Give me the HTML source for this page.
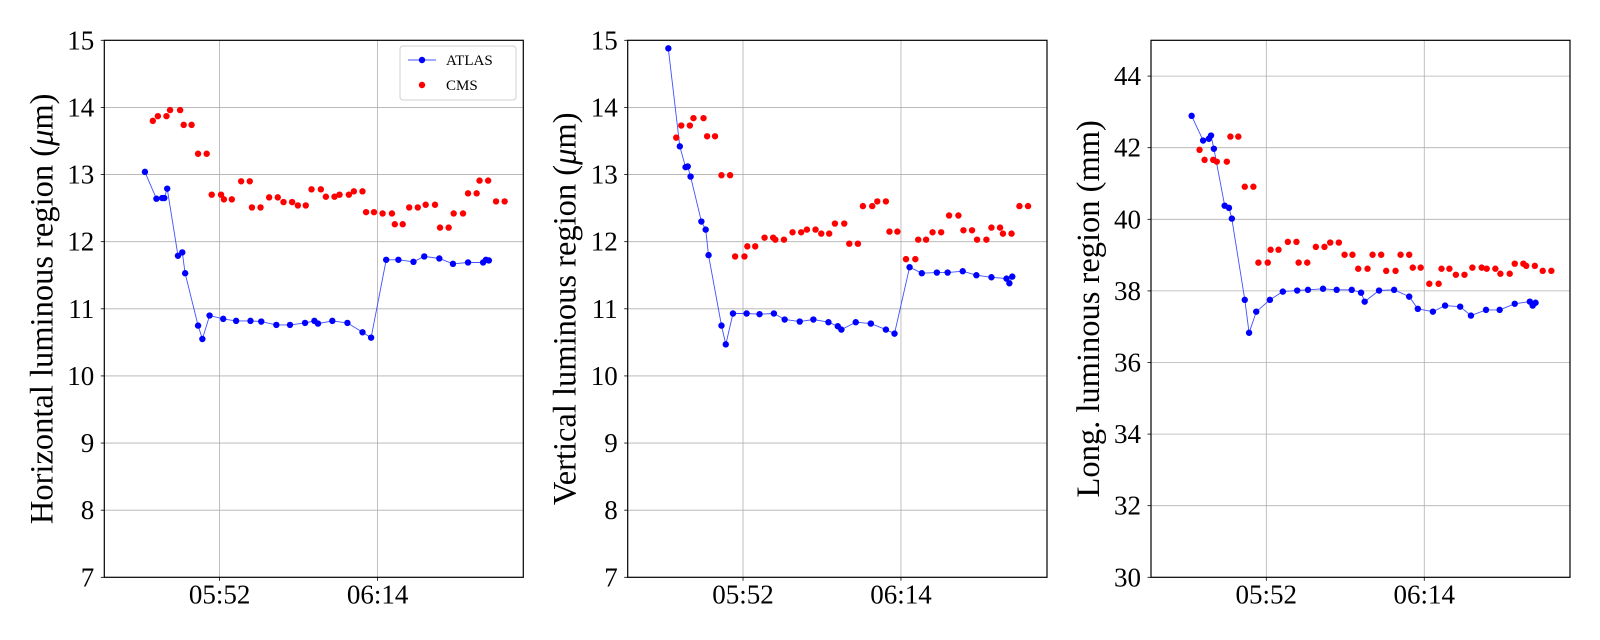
<!DOCTYPE html>
<html><head><meta charset="utf-8"><style>
html,body{margin:0;padding:0;background:#fff;}
svg{display:block;font-family:"Liberation Serif",serif;}
</style></head><body>
<svg id="chart" width="1600" height="640" viewBox="0 0 1600 640" xmlns="http://www.w3.org/2000/svg"></svg>
<script>
// times in minutes since midnight
const atlasTimes=[341.6,343.2,344.0,344.3,344.7,346.2,346.8,347.2,349.0,349.6,350.6,352.5,354.3,356.3,357.8,359.9,361.8,363.9,365.2,365.7,367.7,369.8,371.9,373.1,375.2,376.9,379.0,380.5,382.6,384.5,386.6,388.7,389.1,389.5];
const cmsTimes=[342.7,343.4,344.6,345.1,346.5,347.0,348.1,349.0,350.2,350.9,352.2,352.6,353.7,355.0,356.2,356.5,357.7,358.9,360.1,360.9,362.1,362.9,364.0,364.8,366.1,366.8,368.0,368.7,370.0,370.7,371.9,372.4,373.5,374.7,376.0,376.4,377.5,378.4,379.6,380.7,382.0,382.7,383.9,384.6,385.9,386.6,387.8,388.2,389.4,390.5,391.7];
const hAtlas=[13.04,12.64,12.65,12.65,12.79,11.79,11.84,11.53,10.75,10.55,10.90,10.85,10.82,10.82,10.81,10.76,10.76,10.79,10.82,10.78,10.82,10.79,10.65,10.57,11.73,11.73,11.70,11.78,11.75,11.67,11.69,11.69,11.73,11.72];
const hCms=[13.80,13.87,13.87,13.96,13.96,13.74,13.74,13.31,13.31,12.70,12.70,12.63,12.63,12.90,12.90,12.51,12.51,12.66,12.66,12.59,12.59,12.54,12.54,12.78,12.78,12.67,12.67,12.70,12.70,12.75,12.75,12.44,12.44,12.42,12.42,12.26,12.26,12.51,12.51,12.55,12.55,12.21,12.21,12.42,12.42,12.72,12.72,12.91,12.91,12.60,12.60];
const vAtlas=[14.88,13.42,13.11,13.12,12.97,12.30,12.18,11.80,10.75,10.47,10.93,10.93,10.92,10.93,10.84,10.81,10.84,10.80,10.74,10.69,10.80,10.78,10.69,10.63,11.62,11.53,11.54,11.54,11.56,11.50,11.47,11.45,11.38,11.48];
const vCms=[13.55,13.73,13.73,13.84,13.84,13.57,13.57,12.99,12.99,11.78,11.78,11.93,11.93,12.06,12.06,12.03,12.03,12.14,12.14,12.18,12.18,12.12,12.12,12.27,12.27,11.97,11.97,12.53,12.53,12.60,12.60,12.15,12.15,11.74,11.74,12.03,12.03,12.14,12.14,12.39,12.39,12.17,12.17,12.03,12.03,12.21,12.21,12.12,12.12,12.53,12.53];
const lAtlas=[42.89,42.20,42.25,42.34,41.97,40.38,40.32,40.02,37.75,36.83,37.42,37.75,37.98,38.01,38.03,38.06,38.03,38.03,37.95,37.70,38.01,38.03,37.84,37.50,37.42,37.59,37.56,37.31,37.47,37.47,37.64,37.70,37.59,37.67];
const lCms=[41.94,41.66,41.66,41.61,41.61,42.31,42.31,40.91,40.91,38.79,38.79,39.15,39.15,39.37,39.37,38.79,38.79,39.23,39.23,39.35,39.35,39.01,39.01,38.62,38.62,39.01,39.01,38.56,38.56,39.01,39.01,38.65,38.65,38.20,38.20,38.62,38.62,38.45,38.45,38.65,38.65,38.62,38.62,38.48,38.48,38.76,38.76,38.70,38.70,38.56,38.56];
const xTickTimes=[352,374];
const xTickLabels=["05:52","06:14"];
const hTicks=[7,8,9,10,11,12,13,14,15];
const vTicks=[7,8,9,10,11,12,13,14,15];
const lTicks=[30,32,34,36,38,40,42,44];

const NS="http://www.w3.org/2000/svg";
const svg=document.getElementById('chart');
function mk(tag,attrs,parent){const e=document.createElementNS(NS,tag);for(const k in attrs)e.setAttribute(k,attrs[k]);(parent||svg).appendChild(e);return e;}
const T0=335.94, PXMIN=7.18, TOP=40.3, BOT=577.3;

function panel(left,right,ymin,ymax,yTicks,label,atlasV,cmsV,name,legend){
  const g=mk('g',{});
  
  
  const xs=t=>left+(t-T0)*PXMIN;
  const ys=v=>BOT-(v-ymin)/(ymax-ymin)*(BOT-TOP);
  yTicks.forEach(v=>{
    const y=ys(v);
    if(v>ymin&&v<ymax){const l=mk('line',{x1:left,x2:right,y1:y,y2:y,stroke:'#b0b0b0','stroke-width':0.8},g);
    }
    mk('line',{x1:left-3.5,x2:left,y1:y,y2:y,stroke:'#000','stroke-width':0.8},g);
    const t=mk('text',{x:left-10,y:y+9,'text-anchor':'end','font-size':27},g);
    
    t.textContent=v;
  });
  xTickTimes.forEach((tm,i)=>{
    const x=xs(tm);
    const l=mk('line',{x1:x,x2:x,y1:TOP,y2:BOT,stroke:'#b0b0b0','stroke-width':0.8},g);
    
    mk('line',{x1:x,x2:x,y1:BOT,y2:BOT+3.5,stroke:'#000','stroke-width':0.8},g);
    const t=mk('text',{x:x,y:BOT+26,'text-anchor':'middle','font-size':27},g);
    
    t.textContent=xTickLabels[i];
  });
  const pts=atlasTimes.map((t,i)=>xs(t).toFixed(1)+','+ys(atlasV[i]).toFixed(1)).join(' ');
  const pl=mk('polyline',{points:pts,fill:'none',stroke:'#4050ff','stroke-width':0.9},g);
  
  atlasTimes.forEach((t,i)=>{
    const c=mk('circle',{cx:xs(t),cy:ys(atlasV[i]),r:3.2,fill:'#0000ff'},g);
    
    
  });
  cmsTimes.forEach((t,i)=>{
    const c=mk('circle',{cx:xs(t),cy:ys(cmsV[i]),r:3.2,fill:'#ff0000'},g);
    
    
  });
  const fr=mk('rect',{x:left,y:TOP,width:right-left,height:BOT-TOP,fill:'none',stroke:'#000','stroke-width':1.2},g);
  
  const cy=(TOP+BOT)/2, lx=left-52;
  const yl=mk('text',{x:lx,y:cy,'text-anchor':'middle','font-size':32.5,transform:`rotate(-90 ${lx} ${cy})`},g);
  
  yl.innerHTML=label;
  if(legend){
    const lg=mk('g',{},g);
    
    mk('rect',{x:400,y:46,width:116,height:54,rx:3,fill:'#fff',stroke:'#d0d0d0','stroke-width':1},lg);
    const e1=mk('g',{},lg);
    mk('line',{x1:408,x2:436,y1:60,y2:60,stroke:'#4050ff','stroke-width':0.9},e1);
    mk('circle',{cx:422,cy:60,r:3.2,fill:'#0000ff'},e1);
    const t1=mk('text',{x:446,y:65,'font-size':15},e1);t1.textContent='ATLAS';
    const e2=mk('g',{},lg);
    mk('circle',{cx:422,cy:85,r:3.2,fill:'#ff0000'},e2);
    const t2=mk('text',{x:446,y:90,'font-size':15},e2);t2.textContent='CMS';
  }
}
panel(104.3,523.3,7,15,hTicks,'Horizontal luminous region (<tspan font-style="italic">μ</tspan>m)',hAtlas,hCms,'horizontal-panel',true);
panel(627.7,1047,7,15,vTicks,'Vertical luminous region (<tspan font-style="italic">μ</tspan>m)',vAtlas,vCms,'vertical-panel',false);
panel(1151,1570,30,45,lTicks,'Long. luminous region (mm)',lAtlas,lCms,'longitudinal-panel',false);
</script>
</body></html>
